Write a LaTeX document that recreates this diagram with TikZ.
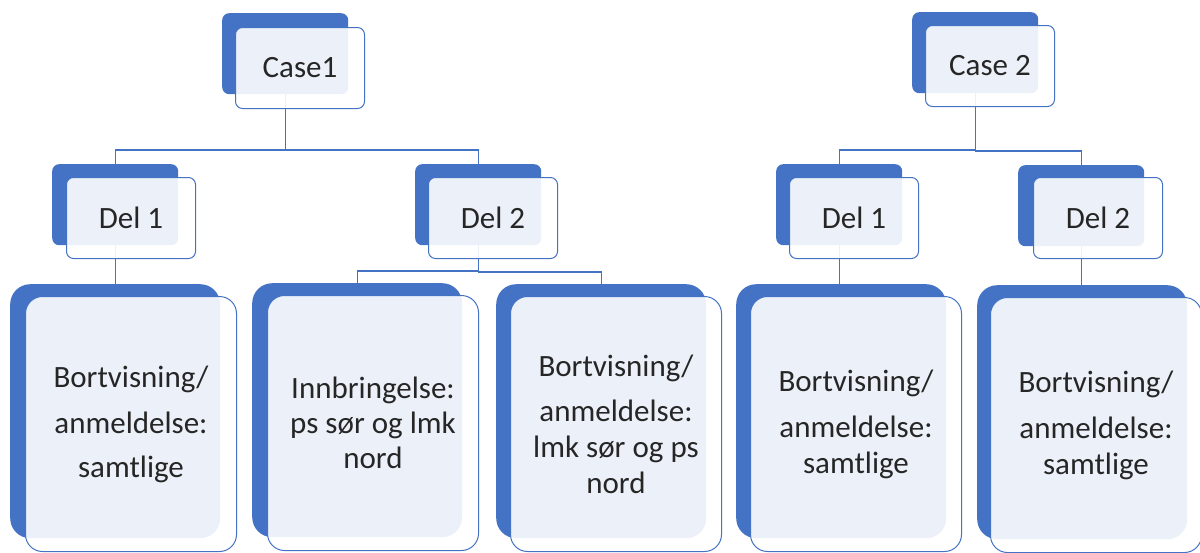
\documentclass[tikz,border=0pt]{standalone}
\usepackage{fontspec}
\setmainfont{Carlito}
\definecolor{blu}{HTML}{4472C4}
\definecolor{txt}{HTML}{262626}
\begin{document}
\begin{tikzpicture}[x=1pt,y=-1pt,
  backL/.style={draw=none, fill=blu, rounded corners=20pt, minimum width=210pt, minimum height=254pt, anchor=north west, inner sep=0pt},
  frontL/.style={draw=blu, line width=1pt, fill=white, fill opacity=0.9, text opacity=1, rounded corners=17pt, minimum width=211pt, minimum height=255pt, anchor=north west, inner sep=0pt, align=center, text=txt, font=\fontsize{31}{36}\selectfont},
  backM/.style={draw=none, fill=blu, rounded corners=7pt, minimum width=126pt, minimum height=81pt, anchor=north west, inner sep=0pt},
  frontM/.style={draw=blu, line width=1pt, fill=white, fill opacity=0.9, text opacity=1, rounded corners=7pt, minimum width=129pt, minimum height=81pt, anchor=north west, inner sep=0pt, text=txt, font=\fontsize{31}{36}\selectfont},
  conn/.style={draw=blu, line width=1.2pt}
]
\useasboundingbox (0,0) rectangle (1200,552);
% back boxes
\node[backM] (c1b) at (222,13) {};
\node[backM] (c2b) at (912,12) {};
\node[backM] (d11b) at (52,164) {};
\node[backM] (d12b) at (415,164) {};
\node[backM] (d21b) at (776,164) {};
\node[backM] (d22b) at (1018,165) {};
\node[backL] (l1b) at (10,284) {};
\node[backL] (l2b) at (252,283) {};
\node[backL] (l3b) at (496,284) {};
\node[backL] (l4b) at (736,284) {};
\node[backL] (l5b) at (977,285) {};
% connectors
\draw[conn] (c1b.south) |- ([yshift=14pt]d11b.north) -- (d11b.north);
\draw[conn] (c1b.south) |- ([yshift=14pt]d12b.north) -- (d12b.north);
\draw[conn] (c2b.south) |- ([yshift=14pt]d21b.north) -- (d21b.north);
\draw[conn] (c2b.south) |- ([yshift=14pt]d22b.north) -- (d22b.north);
\draw[conn] (d11b.south) -- (d11b.south |- l1b.north);
\draw[conn] (d12b.south) |- ([yshift=12pt]l2b.north) -- (l2b.north);
\draw[conn] (d12b.south) |- ([yshift=12pt]l3b.north) -- (l3b.north);
\draw[conn] (d21b.south) -- (d21b.south |- l4b.north);
\draw[conn] (d22b.south) -- (d22b.south |- l5b.north);
% front boxes
\node[frontM] (c1f) at (235,27) {Case1};
\node[frontM] (c2f) at (925,25) {Case 2};
\node[frontM] (d11f) at (66,177) {Del 1};
\node[frontM] (d12f) at (428,177) {Del 2};
\node[frontM] (d21f) at (789,177) {Del 1};
\node[frontM] (d22f) at (1033,177) {Del 2};
\node[frontL] (l1f) at (25,296) {Bortvisning/\\[10pt]anmeldelse:\\[8pt]samtlige};
\node[frontL] (l2f) at (267,295) {Innbringelse:\\[-1pt]ps sør og lmk\\[-1pt]nord};
\node[frontL] (l3f) at (510,296) {Bortvisning/\\[9pt]anmeldelse:\\lmk sør og ps\\nord};
\node[frontL] (l4f) at (750,296) {Bortvisning/\\[10pt]anmeldelse:\\samtlige};
\node[frontL] (l5f) at (990,297) {Bortvisning/\\[10pt]anmeldelse:\\samtlige};
\end{tikzpicture}
\end{document}
